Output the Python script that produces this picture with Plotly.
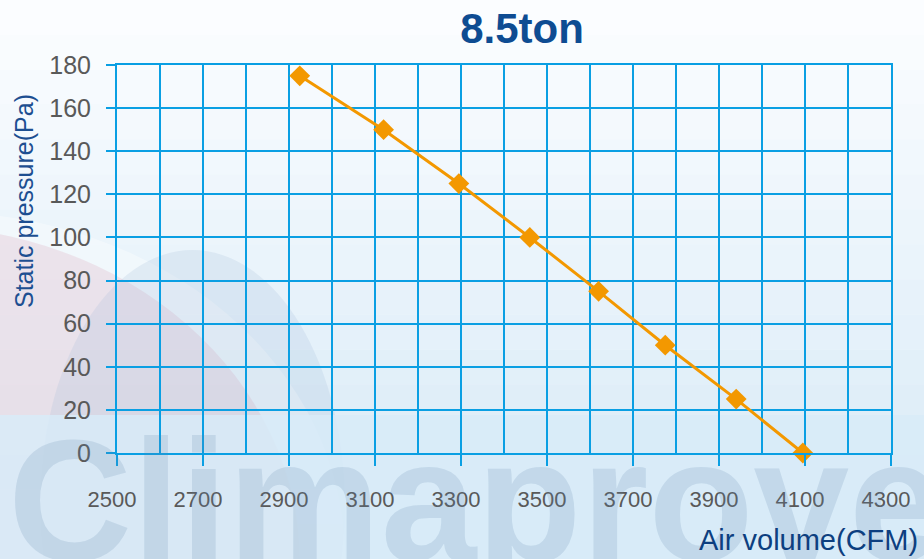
import plotly.graph_objects as go

# curve
air_volume = [2925, 3120, 3295, 3460, 3620, 3775, 3940, 4095]
static_pressure = [175, 150, 125, 100, 75, 50, 25, 0]

x_ticks = [2500, 2700, 2900, 3100, 3300, 3500, 3700, 3900, 4100, 4300]
y_ticks = [0, 20, 40, 60, 80, 100, 120, 140, 160, 180]

W, H = 924, 559
L, R, T, B = 117, 33, 65, 106
PW, PH = W - L - R, H - T - B
GRID = '#0A9FE3'


def px(x):
    return (x - L) / PW


def py(y):
    return (H - B - y) / PH


# soft vertical gradient for the page background
shapes = []
n_bands = 16
top_rgb, bot_rgb = (251, 253, 255), (214, 233, 246)
for i in range(n_bands):
    f = i / (n_bands - 1)
    c = tuple(round(a + (b - a) * f) for a, b in zip(top_rgb, bot_rgb))
    shapes.append(dict(
        type='rect', xref='paper', yref='paper', layer='below',
        x0=px(0), x1=px(W), y0=py(H * (i + 1) / n_bands), y1=py(H * i / n_bands),
        fillcolor='rgb(%d,%d,%d)' % c, line_width=0,
    ))
# faint swooshes on the left
shapes.append(dict(
    type='circle', xref='paper', yref='paper', layer='below',
    x0=px(-470), x1=px(345), y0=py(900), y1=py(212),
    fillcolor='rgba(255,255,255,0.35)', line_width=0,
))
shapes.append(dict(
    type='circle', xref='paper', yref='paper', layer='below',
    x0=px(-470), x1=px(300), y0=py(900), y1=py(226),
    fillcolor='rgba(225,185,200,0.32)', line_width=0,
))
shapes.append(dict(
    type='circle', xref='paper', yref='paper', layer='below',
    x0=px(40), x1=px(345), y0=py(760), y1=py(250),
    fillcolor='rgba(160,185,215,0.20)', line_width=0,
))
shapes.append(dict(
    type='rect', xref='paper', yref='paper', layer='below',
    x0=px(0), x1=px(W), y0=py(H), y1=py(415),
    fillcolor='rgba(216,235,248,0.85)', line_width=0,
))

fig = go.Figure()
fig.add_trace(go.Scatter(
    x=air_volume, y=static_pressure,
    mode='lines+markers',
    line=dict(color='#F39800', width=3),
    marker=dict(symbol='diamond', size=16, color='#F39800'),
    cliponaxis=False,
    showlegend=False,
))

fig.update_layout(
    width=W, height=H,
    margin=dict(l=L, r=R, t=T, b=B),
    paper_bgcolor='#EEF6FC',
    plot_bgcolor='rgba(0,0,0,0)',
    font=dict(family='Liberation Sans, Arial, sans-serif', color='#595959'),
    title=dict(
        text='8.5ton', x=522 / W, y=1 - 28 / H,
        xanchor='center', yanchor='middle',
        font=dict(size=42, color='#0E4C92', weight='bold'),
    ),
    xaxis=dict(
        range=[2500, 4300], tickvals=x_ticks,
        ticks='outside', ticklen=11, tickwidth=2, tickcolor=GRID,
        ticklabelstandoff=15, ticklabelshift=-5,
        tickfont=dict(size=22, color='#595959'),
        showgrid=True, gridcolor=GRID, gridwidth=2,
        minor=dict(dtick=100, tick0=2500, showgrid=True, gridcolor=GRID, gridwidth=2),
        showline=True, linecolor=GRID, linewidth=2, mirror=True,
        zeroline=False, fixedrange=True,
    ),
    yaxis=dict(
        range=[0, 180], tickvals=y_ticks,
        ticks='outside', ticklen=9, tickwidth=2, tickcolor=GRID,
        ticklabelstandoff=10,
        tickfont=dict(size=25, color='#595959'),
        showgrid=True, gridcolor=GRID, gridwidth=2,
        showline=True, linecolor=GRID, linewidth=2, mirror=True,
        zeroline=False, fixedrange=True,
    ),
    shapes=shapes,
    annotations=[
        dict(
            text='Climaproveo', xref='paper', yref='paper',
            x=px(6), y=py(402), xanchor='left', yanchor='top',
            showarrow=False,
            font=dict(family='Liberation Sans Narrow, Liberation Sans', size=172,
                      color='rgba(95,135,170,0.18)', weight='bold'),
        ),
        dict(
            text='Static pressure(Pa)', xref='paper', yref='paper',
            x=px(24), y=py(201), xanchor='center', yanchor='middle',
            textangle=-90, showarrow=False,
            font=dict(size=25, color='#1D4F91'),
        ),
        dict(
            text='Air volume(CFM)', xref='paper', yref='paper',
            x=px(920), y=py(540), xanchor='right', yanchor='middle',
            showarrow=False,
            font=dict(size=29, color='#0D3F80'),
        ),
    ],
)

fig.write_html('out.html', config={'displayModeBar': False},
               post_script="document.body.style.margin='0';")
